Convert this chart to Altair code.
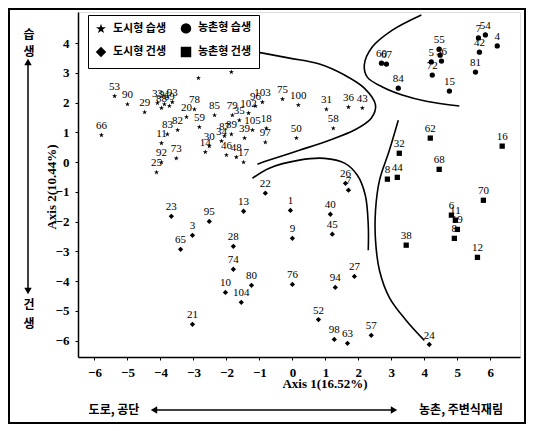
import altair as alt
import pandas as pd

# ---------------- data ----------------
groups = ["도시형 습생", "도시형 건생", "농촌형 습생", "농촌형 건생"]

# urban wet (stars)
uw_lab = ["53", "90", "29", "33", "91", "93", "88", "69", "78", "20", "83", "82", "11", "59", "85", "79",
          "35", "102", "96", "103", "64", "", "75", "100", "31", "36", "43", "58", "105", "18", "39", "97",
          "50", "87", "89", "34", "30", "14", "46", "48", "17", "92", "25", "73", "66"]
uw_x = [-5.39, -5.00, -4.48, -4.09, -3.88, -3.64, -3.97, -3.73, -2.97, -3.21, -3.79, -3.48, -3.97, -2.82, -2.36, -1.82,
        -1.61, -1.33, -1.12, -0.91, -1.85, -2.85, -0.30, 0.18, 1.03, 1.70, 2.12, 1.24, -1.21, -0.79, -1.45, -0.82,
        0.12, -2.06, -1.85, -2.15, -2.52, -2.64, -2.00, -1.70, -1.48, -3.97, -4.12, -3.52, -5.79]
uw_y = [2.22, 1.95, 1.68, 1.99, 1.95, 2.02, 1.82, 1.89, 1.78, 1.52, 0.94, 1.08, 0.64, 1.18, 1.58, 1.58,
        1.41, 1.65, 1.89, 2.02, 3.03, 2.83, 2.12, 1.92, 1.78, 1.85, 1.82, 1.14, 1.08, 1.14, 0.81, 0.67,
        0.81, 0.88, 0.94, 0.71, 0.54, 0.34, 0.24, 0.17, 0.00, 0.00, -0.34, 0.13, 0.91]

# rural wet (circles)
rw_lab = ["60", "67", "84", "55", "5", "56", "", "72", "15", "54", "7", "42", "4", "81"]
rw_x = [2.70, 2.85, 3.21, 4.45, 4.21, 4.52, 4.48, 4.24, 4.76, 5.85, 5.64, 5.67, 6.21, 5.55]
rw_y = [3.33, 3.30, 2.49, 3.80, 3.37, 3.40, 3.60, 2.93, 2.39, 4.28, 4.18, 3.70, 3.91, 3.03]

# urban dry (diamonds)
ud_lab = ["22", "23", "95", "13", "3", "65", "28", "74", "80", "10", "104", "21", "1", "9", "40", "45",
          "26", "7", "27", "76", "94", "52", "98", "63", "57", "24"]
ud_x = [-0.82, -3.67, -2.52, -1.48, -3.03, -3.39, -1.79, -1.79, -1.24, -2.03, -1.55, -3.03, -0.06, 0.00, 1.15, 1.21,
        1.61, 1.70, 1.88, 0.00, 1.30, 0.79, 1.27, 1.67, 2.39, 4.15]
ud_y = [-1.04, -1.82, -1.99, -1.65, -2.46, -2.93, -2.83, -3.60, -4.14, -4.38, -4.71, -5.45, -1.62, -2.56, -1.75, -2.42,
        -0.71, -0.94, -3.84, -4.11, -4.21, -5.29, -5.96, -6.09, -5.82, -6.13]

# rural dry (squares)
rd_lab = ["62", "16", "32", "8", "44", "68", "70", "6", "11", "19", "8", "38", "12"]
rd_x = [4.18, 6.36, 3.24, 2.88, 3.18, 4.45, 5.79, 4.82, 4.94, 5.00, 4.91, 3.45, 5.61]
rd_y = [0.81, 0.54, 0.30, -0.57, -0.51, -0.24, -1.28, -1.78, -1.95, -2.26, -2.56, -2.79, -3.20]

# hand-drawn boundary curves
c1_x = [-1.06, -0.09, 0.82, 1.58, 2.18, 2.52, 2.39, 1.88, 1.12, 0.21, -0.70, -1.06]
c1_y = [3.70, 3.50, 3.30, 2.93, 2.49, 1.92, 1.48, 1.08, 0.74, 0.40, 0.07, -0.07]
c2_x = [3.91, 3.03, 2.42, 2.18, 2.27, 2.73, 3.33, 4.06, 5.06]
c2_y = [4.95, 4.44, 3.87, 3.27, 2.86, 2.53, 2.26, 2.05, 1.89]
c3_x = [-1.21, -0.70, 0.21, 0.97, 1.58, 1.97, 2.21, 2.30, 2.30]
c3_y = [-0.54, -0.20, 0.07, 0.13, -0.03, -0.44, -1.11, -2.12, -2.96]
c4_x = [3.21, 2.94, 2.64, 2.52, 2.52, 2.64, 2.94, 3.45, 4.00]
c4_y = [1.41, 0.40, -0.61, -1.62, -2.63, -3.64, -4.55, -5.32, -5.99]

x_ticks = [-6, -5, -4, -3, -2, -1, 0, 1, 2, 3, 4, 5, 6]
y_ticks = [-6, -5, -4, -3, -2, -1, 0, 1, 2, 3, 4]

# ---------------- tables ----------------
rows = []
for g, labs, xs, ys in [("도시형 습생", uw_lab, uw_x, uw_y), ("농촌형 습생", rw_lab, rw_x, rw_y),
                        ("도시형 건생", ud_lab, ud_x, ud_y), ("농촌형 건생", rd_lab, rd_x, rd_y)]:
    for l, x, y in zip(labs, xs, ys):
        rows.append({"group": g, "label": l, "x": x, "y": y})
pts = pd.DataFrame(rows)

crow = []
for cid, xs, ys in [("c1", c1_x, c1_y), ("c2", c2_x, c2_y), ("c3", c3_x, c3_y), ("c4", c4_x, c4_y)]:
    for i, (x, y) in enumerate(zip(xs, ys)):
        crow.append({"cid": cid, "i": i, "x": x, "y": y})
curves = pd.DataFrame(crow)

STAR = "M0,-1L0.2245,-0.309L0.951,-0.309L0.363,0.118L0.588,0.809L0,0.382L-0.588,0.809L-0.363,0.118L-0.951,-0.309L-0.2245,-0.309Z"

xs = alt.Scale(domain=[-6.5, 6.9], nice=False, zero=False)
ys = alt.Scale(domain=[-6.55, 5.05], nice=False, zero=False)

axis_common = dict(title=None, grid=False, labelFont="Liberation Serif", labelFontWeight="bold",
                   labelFontSize=13, labelColor="black", tickColor="black", tickSize=3, domainColor="black",
                   domainWidth=1.5, labelPadding=6, labelFlush=False, labelOverlap=False)
xax = alt.Axis(values=x_ticks, **axis_common)
yax = alt.Axis(values=y_ticks, **axis_common)

X = alt.X("x:Q", scale=xs, axis=xax)
Y = alt.Y("y:Q", scale=ys, axis=yax)

points = alt.Chart(pts).mark_point(filled=True, color="black", opacity=1, size=28).encode(
    x=X, y=Y,
    shape=alt.Shape("group:N", sort=groups,
                    scale=alt.Scale(domain=groups, range=[STAR, "diamond", "circle", "square"]),
                    legend=alt.Legend(title=None, orient="none", legendX=10, legendY=3, columns=2,
                                      strokeColor="black", fillColor="white", padding=7,
                                      labelFont="Noto Sans CJK KR", labelFontWeight="bold",
                                      labelFontSize=11, labelColor="black", symbolSize=110,
                                      symbolFillColor="black", symbolStrokeColor="black",
                                      columnPadding=10, rowPadding=6, labelOffset=6)),
)

labels = alt.Chart(pts).mark_text(font="Liberation Serif", fontSize=11, color="black", dy=-9).encode(
    x=X, y=Y, text="label:N")

lines = alt.Chart(curves).mark_line(color="black", strokeWidth=1.6, interpolate="catmull-rom").encode(
    x=X, y=Y, detail="cid:N", order="i:Q")

one = alt.Data(values=[{"a": 1}])

def txt(s, x, y, **kw):
    return alt.Chart(one).mark_text(text=s, color="black", **kw).encode(x=alt.value(x), y=alt.value(y))

def tri(shape, x, y):
    return alt.Chart(one).mark_point(shape=shape, filled=True, color="black", opacity=1, size=55).encode(
        x=alt.value(x), y=alt.value(y))

kfont = dict(font="Noto Sans CJK KR", fontWeight="bold", fontSize=12)
sfont = dict(font="Liberation Serif", fontWeight="bold", fontSize=13)

deco = [
    alt.Chart(one).mark_rect(fillOpacity=0, stroke="black", strokeWidth=2).encode(
        x=alt.value(-69), x2=alt.value(447), y=alt.value(-3), y2=alt.value(411)),
    alt.Chart(one).mark_rule(color="black", strokeWidth=1.5).encode(
        x=alt.value(-50), y=alt.value(52), y2=alt.value(276)),
    tri("triangle-up", -50, 50), tri("triangle-down", -50, 279),
    alt.Chart(one).mark_rule(color="black", strokeWidth=1.5).encode(
        x=alt.value(78), x2=alt.value(314), y=alt.value(398)),
    tri("triangle-left", 76, 398), tri("triangle-right", 316, 398),
    txt("습", -49, 23, **kfont), txt("생", -49, 40, **kfont),
    txt("건", -49, 293, **kfont), txt("생", -49, 312, **kfont),
    txt("Axis 2(10.44%)", -26, 175, angle=270, **sfont),
    txt("Axis 1(16.52%)", 247, 372, **sfont),
    txt("도로, 공단", 36, 398, **kfont),
    txt("농촌, 주변식재림", 383, 398, **kfont),
]

chart = alt.layer(lines, points, labels, *deco).properties(
    width=442, height=345,
    autosize=alt.AutoSizeParams(type="none"),
    padding={"left": 70, "top": 4, "right": 6, "bottom": 67},
).configure_view(strokeWidth=0).configure(background="white")

chart.save("out.html", embed_options={"renderer": "svg", "actions": False})
